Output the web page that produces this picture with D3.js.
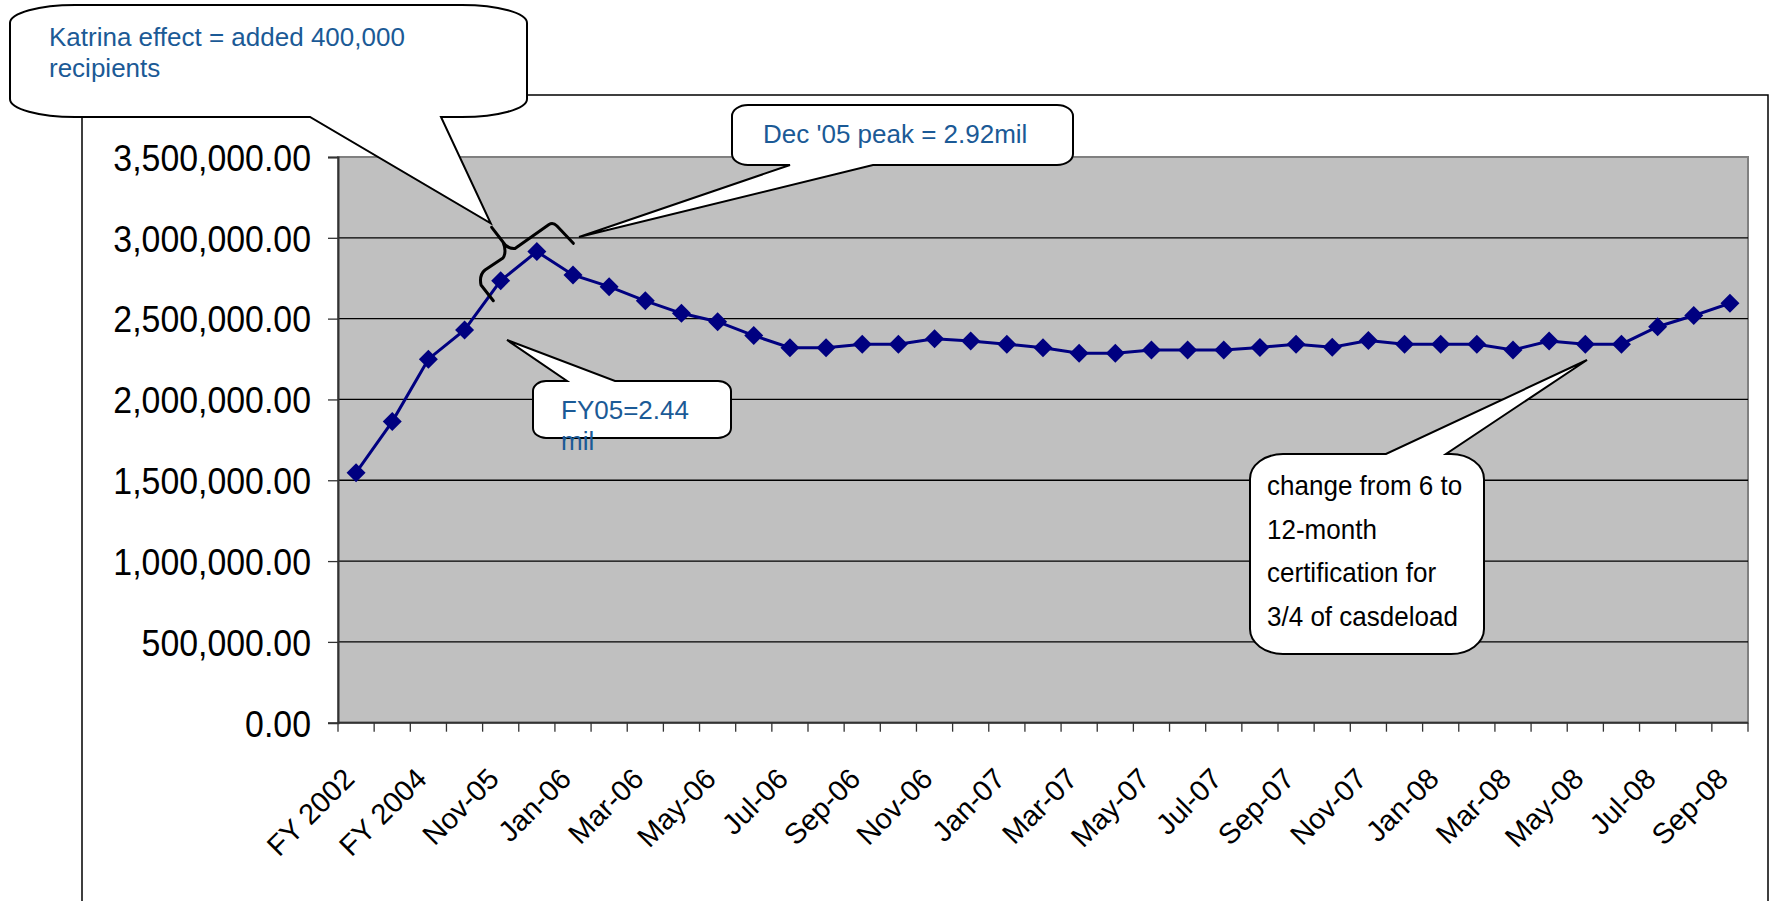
<!DOCTYPE html>
<html>
<head>
<meta charset="utf-8">
<script src="https://cdn.jsdelivr.net/npm/d3@7/dist/d3.min.js"></script>
<style>
body { margin: 0; background: #fff; }
svg { display: block; font-family: "Liberation Sans", Arial, sans-serif; }
</style>
</head>
<body>
<svg id="chart" width="1777" height="901"></svg>
<script>
var categories = ["FY 2002", "FY 2003", "FY 2004", "FY 2005",
    "Nov-05", "Dec-05",
    "Jan-06", "Feb-06", "Mar-06", "Apr-06", "May-06", "Jun-06",
    "Jul-06", "Aug-06", "Sep-06", "Oct-06", "Nov-06", "Dec-06",
    "Jan-07", "Feb-07", "Mar-07", "Apr-07", "May-07", "Jun-07",
    "Jul-07", "Aug-07", "Sep-07", "Oct-07", "Nov-07", "Dec-07",
    "Jan-08", "Feb-08", "Mar-08", "Apr-08", "May-08", "Jun-08",
    "Jul-08", "Aug-08", "Sep-08"];

var recipients = [1547000, 1863000, 2249000, 2430000,
    2735000, 2915000,
    2770000, 2698000, 2610000, 2533000, 2481000, 2395000,
    2320000, 2320000, 2342000, 2342000, 2376000, 2362000,
    2342000, 2320000, 2286000, 2286000, 2306000, 2306000,
    2306000, 2322000, 2342000, 2323000, 2364000, 2342000,
    2342000, 2342000, 2306000, 2362000, 2342000, 2342000,
    2450000, 2519000, 2595000];

var yTicks = [0, 500000, 1000000, 1500000, 2000000, 2500000, 3000000, 3500000];

var katrinaText = ["Katrina effect = added 400,000", "recipients"];
var peakText = ["Dec '05 peak = 2.92mil"];
var fy05Text = ["FY05=2.44", "mil"];
var certText = ["change from 6 to", "12-month", "certification for", "3/4 of casdeload"];

var svg = d3.select("#chart");
var plotLeft = 338, plotRight = 1748, plotTop = 157, plotBottom = 722.7;
var blue = "#1b5a96";

var x = d3.scaleBand().domain(categories).range([plotLeft, plotRight]);
var y = d3.scaleLinear().domain([0, 3500000]).range([plotBottom, plotTop]);

// outer chart border
svg.append("path")
    .attr("d", "M82,901 V95 H1768 V901")
    .attr("fill", "none").attr("stroke", "#000").attr("stroke-width", 1.5);

// plot area
svg.append("rect")
    .attr("x", plotLeft).attr("y", plotTop)
    .attr("width", plotRight - plotLeft).attr("height", plotBottom - plotTop)
    .attr("fill", "#c0c0c0").attr("stroke", "#808080").attr("stroke-width", 2);

svg.append("g").selectAll("line")
    .data(yTicks.filter(function(d) { return d > 0 && d < 3500000; }))
    .enter().append("line")
    .attr("x1", plotLeft).attr("x2", plotRight)
    .attr("y1", function(d) { return y(d); })
    .attr("y2", function(d) { return y(d); })
    .attr("stroke", "#000").attr("stroke-width", 1.3);

// y axis
var yAxis = svg.append("g")
    .attr("transform", "translate(" + plotLeft + ",0)")
    .call(d3.axisLeft(y).tickValues(yTicks).tickSize(10).tickPadding(0)
        .tickFormat(d3.format(",.2f")));
yAxis.select(".domain").attr("stroke", "#333").attr("stroke-width", 2);
yAxis.selectAll(".tick line").attr("stroke", "#333").attr("stroke-width", 1.3);
yAxis.selectAll(".tick text")
    .attr("x", -27 / 0.915).attr("dy", 13.3)
    .attr("transform", "scale(0.915,1)")
    .attr("font-size", 37).attr("fill", "#000")
    .attr("font-family", "Liberation Sans, Arial, sans-serif");

// x axis: ticks sit between categories, labels on every other one
var step = x.step();
svg.append("line")
    .attr("x1", plotLeft).attr("x2", plotRight).attr("y1", plotBottom).attr("y2", plotBottom)
    .attr("stroke", "#333").attr("stroke-width", 2);
svg.append("g").selectAll("line")
    .data(d3.range(categories.length + 1))
    .enter().append("line")
    .attr("x1", function(i) { return plotLeft + i * step; })
    .attr("x2", function(i) { return plotLeft + i * step; })
    .attr("y1", plotBottom).attr("y2", plotBottom + 9)
    .attr("stroke", "#333").attr("stroke-width", 1.3);
svg.append("g").selectAll("text")
    .data(categories.filter(function(d, i) { return i % 2 === 0; }))
    .enter().append("text")
    .attr("transform", function(d) {
        return "translate(" + (x(d) + step / 2) + "," + (plotBottom + 58) + ") rotate(-45)";
    })
    .attr("text-anchor", "end")
    .attr("font-size", 29)
    .text(function(d) { return d; });

// series
var line = d3.line()
    .x(function(d, i) { return x(categories[i]) + step / 2; })
    .y(function(d) { return y(d); });
svg.append("path")
    .datum(recipients)
    .attr("d", line)
    .attr("fill", "none").attr("stroke", "#000080").attr("stroke-width", 3);
svg.append("g").selectAll("path")
    .data(recipients)
    .enter().append("path")
    .attr("transform", function(d, i) {
        return "translate(" + (x(categories[i]) + step / 2) + "," + y(d) + ")";
    })
    .attr("d", "M0,-9.5 L9.5,0 L0,9.5 L-9.5,0 Z")
    .attr("fill", "#000080");

// callout box with a wedge pointer on its top or bottom edge
function callout(b) {
    var x0 = b.x0, x1 = b.x1, y0 = b.y0, y1 = b.y1, rx = b.rx, ry = b.ry;
    var arc = " A" + rx + "," + ry + " 0 0 1 ";
    var d = "M" + (x0 + rx) + "," + y0;
    if (b.side === "top") d += " L" + b.p1 + "," + y0 + " L" + b.tip[0] + "," + b.tip[1] + " L" + b.p2 + "," + y0;
    d += " L" + (x1 - rx) + "," + y0 + arc + x1 + "," + (y0 + ry);
    d += " L" + x1 + "," + (y1 - ry) + arc + (x1 - rx) + "," + y1;
    if (b.side === "bottom") d += " L" + b.p2 + "," + y1 + " L" + b.tip[0] + "," + b.tip[1] + " L" + b.p1 + "," + y1;
    d += " L" + (x0 + rx) + "," + y1 + arc + x0 + "," + (y1 - ry);
    d += " L" + x0 + "," + (y0 + ry) + arc + (x0 + rx) + "," + y0 + " Z";
    svg.append("path").attr("d", d)
        .attr("fill", "#fff").attr("stroke", "#000").attr("stroke-width", 2)
        .attr("stroke-linejoin", "miter");
}

// bracket over the Katrina jump
svg.append("path")
    .attr("d", "M491.7,227.3 L503,242 Q507,249 515,248.5 L549,224.5 Q553,222 557,226 L573.3,243.3" +
        " M503,242 Q507,252 503,258 L485,270 Q479,275 481,285 L493.3,300.7")
    .attr("fill", "none").attr("stroke", "#000").attr("stroke-width", 3)
    .attr("stroke-linecap", "round").attr("stroke-linejoin", "round");

callout({x0: 10, x1: 527, y0: 5, y1: 117, rx: 65, ry: 18, side: "bottom", p1: 310, p2: 441, tip: [490.7, 223.3]});
svg.append("g").selectAll("text").data(katrinaText).enter().append("text")
    .attr("x", 49).attr("y", function(d, i) { return 46 + i * 31; })
    .attr("font-size", 26).attr("fill", blue)
    .text(function(d) { return d; });

callout({x0: 732, x1: 1073, y0: 105, y1: 165, rx: 16, ry: 11, side: "bottom", p1: 790, p2: 873, tip: [579, 237]});
svg.append("text").attr("x", 763).attr("y", 143)
    .attr("font-size", 26).attr("fill", blue).text(peakText[0]);

callout({x0: 533, x1: 731, y0: 381, y1: 438, rx: 13, ry: 10, side: "top", p1: 567, p2: 615, tip: [507, 340]});
svg.append("g").selectAll("text").data(fy05Text).enter().append("text")
    .attr("x", 561).attr("y", function(d, i) { return 419 + i * 31; })
    .attr("font-size", 26).attr("fill", blue)
    .text(function(d) { return d; });

callout({x0: 1250, x1: 1484, y0: 454, y1: 654, rx: 33, ry: 25, side: "top", p1: 1386, p2: 1446, tip: [1587, 360]});
svg.append("g").selectAll("text").data(certText).enter().append("text")
    .attr("transform", function(d, i) {
        return "translate(1267," + (495 + i * 43.5) + ") scale(0.93,1)";
    })
    .attr("font-size", 28).attr("fill", "#000")
    .text(function(d) { return d; });
</script>
</body>
</html>
